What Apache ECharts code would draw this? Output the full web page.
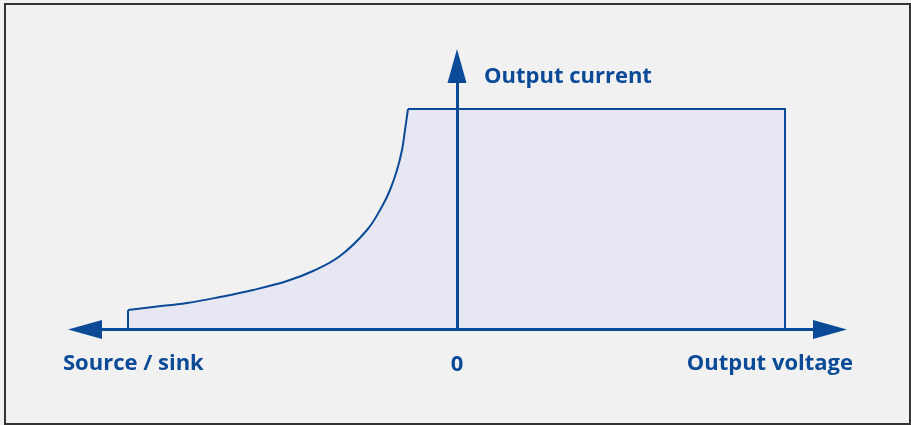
<!DOCTYPE html>
<html><head><meta charset="utf-8">
<script src="https://cdn.jsdelivr.net/npm/echarts@6/dist/echarts.min.js"></script>
<style>
html,body{margin:0;padding:0;background:#f1f1f1;}
#wrap{position:relative;width:911px;height:425px;overflow:hidden;}
#chart{position:absolute;left:0;top:0;width:911px;height:425px;}
#frame{position:absolute;left:4px;top:3px;width:907px;height:422px;box-sizing:border-box;border:2px solid #333;pointer-events:none;}
</style></head><body>
<div id="wrap"><div id="chart"></div><div id="frame"></div></div>
<script>
// Axis ranges (arbitrary units, origin at 0 V / 0 A)
const xMin = -372, xMax = 373;
const yMin = 0, yMax = 263.5;

// Source / sink curve (rising exponential-like part)
const curveX = [-329, -304, -270, -237, -204, -170, -144, -117, -90, -75, -67, -60, -55, -52, -49];
const curveY = [19.5, 22.5, 26.5, 32.5, 39.5, 48.5, 58.5, 73.5, 99.5, 123, 139.5, 159.5, 179.5, 199.5, 220.5];

// Left vertical edge of the operating region
const leftEdgeX = [-329, -329];
const leftEdgeY = [0, 19.5];

// Constant-current plateau and right edge
const plateauX = [-49, 328, 328];
const plateauY = [220.5, 220.5, 0];

// Tick labels and axis titles
const xTickValues = [0];
const xTickLabels = ['0'];
const xNameStart = 'Source / sink';
const xNameEnd = 'Output voltage';
const yName = 'Output current';

const BLUE = '#0a4a97';
const FILL = '#e6e7f3';
const FONT = '"Open Sans", sans-serif';
const FSIZE = 22;

const zip = (xs, ys) => xs.map((x, i) => [x, ys[i]]);

const chart = echarts.init(document.getElementById('chart'), null, {renderer: 'canvas'});

chart.setOption({
  backgroundColor: 'transparent',
  animation: false,
  grid: {left: 85, right: 81, top: 66, bottom: 95.5, containLabel: false},
  xAxis: {
    type: 'value', min: xMin, max: xMax, z: 10,
    axisLine: {show: true, onZero: true, symbol: ['triangle', 'triangle'], symbolSize: [19, 34],
      lineStyle: {color: BLUE, width: 3}},
    axisTick: {show: false},
    splitLine: {show: false},
    axisLabel: {
      show: true, customValues: xTickValues, margin: 35, verticalAlign: 'middle',
      color: BLUE, fontFamily: FONT, fontWeight: 'bold', fontSize: FSIZE,
      formatter: v => { const i = xTickValues.indexOf(v); return i >= 0 ? xTickLabels[i] : ''; }
    }
  },
  yAxis: {
    type: 'value', min: yMin, max: yMax, z: 10,
    axisLine: {show: true, onZero: true, symbol: ['none', 'triangle'], symbolSize: [19, 34],
      lineStyle: {color: BLUE, width: 3}},
    axisTick: {show: false}, axisLabel: {show: false}, splitLine: {show: false}
  },
  series: [{
    type: 'line', data: zip(curveX, curveY), smooth: 0.4,
    showSymbol: false, z: 2,
    lineStyle: {color: BLUE, width: 2},
    areaStyle: {color: FILL, opacity: 1}
  }, {
    type: 'line', data: zip(plateauX, plateauY), showSymbol: false, z: 2,
    lineStyle: {color: BLUE, width: 2, join: 'miter'},
    areaStyle: {color: FILL, opacity: 1}
  }, {
    type: 'line', data: zip(leftEdgeX, leftEdgeY), showSymbol: false, z: 3,
    lineStyle: {color: BLUE, width: 2}
  }]
});

// Axis titles placed from the axes' own pixel mapping
const pMin = chart.convertToPixel({gridIndex: 0}, [xMin, 0]);
const pMax = chart.convertToPixel({gridIndex: 0}, [xMax, 0]);
const pTop = chart.convertToPixel({gridIndex: 0}, [0, yMax]);
const font = 'bold ' + FSIZE + 'px ' + FONT;
chart.setOption({
  graphic: [
    {type: 'text', x: pMin[0] - 22, y: pMin[1] + 34.5, z: 20,
      style: {text: xNameStart, fill: BLUE, font: font, align: 'left', verticalAlign: 'middle'}},
    {type: 'text', x: pMax[0] + 23, y: pMax[1] + 34.5, z: 20,
      style: {text: xNameEnd, fill: BLUE, font: font, align: 'right', verticalAlign: 'middle'}},
    {type: 'text', x: pTop[0] + 27, y: pTop[1] + 10.5, z: 20,
      style: {text: yName, fill: BLUE, font: font, align: 'left', verticalAlign: 'middle'}}
  ]
});
</script>
</body></html>
